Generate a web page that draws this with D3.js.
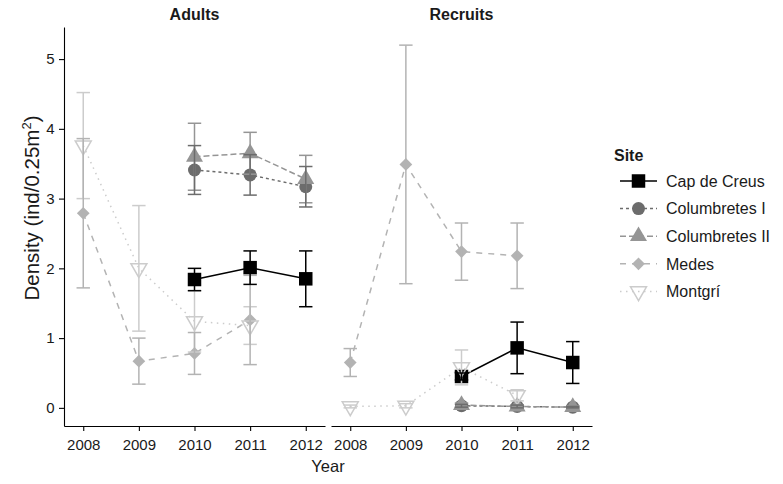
<!DOCTYPE html>
<html>
<head>
<meta charset="utf-8">
<script src="https://cdn.jsdelivr.net/npm/d3@7"></script>
<style>
  html, body { margin: 0; padding: 0; background: #fff; }
  svg { display: block; font-family: "Liberation Sans", Arial, sans-serif; }
</style>
</head>
<body>
<svg id="chart" width="783" height="484"></svg>
<script>
// Survey years, sites and life stages
const years = [2008, 2009, 2010, 2011, 2012];
const sites = ["Cap de Creus", "Columbretes I", "Columbretes II", "Medes", "Montgrí"];
const stages = ["Adults", "Recruits"];
const yTicks = [0, 1, 2, 3, 4, 5];

// Mean density per year (null = not sampled) and its error
const capCreusAdults      = [null, null, 1.84, 2.01, 1.85];
const capCreusAdultsErr   = [null, null, 0.16, 0.24, 0.40];
const colIAdults          = [null, null, 3.41, 3.34, 3.17];
const colIAdultsErr       = [null, null, 0.35, 0.29, 0.29];
const colIIAdults         = [null, null, 3.60, 3.65, 3.28];
const colIIAdultsErr      = [null, null, 0.48, 0.30, 0.34];
const medesAdults         = [2.79, 0.67, 0.78, 1.26, null];
const medesAdultsErr      = [1.07, 0.33, 0.30, 0.64, null];
const montgriAdults       = [3.76, 2.00, 1.24, 1.18, null];
const montgriAdultsErr    = [0.76, 0.90, 0.44, 0.27, null];

const capCreusRecruits    = [null, null, 0.45, 0.86, 0.65];
const capCreusRecruitsErr = [null, null, 0.05, 0.37, 0.30];
const colIRecruits        = [null, null, 0.03, 0.02, 0.01];
const colIRecruitsErr     = [null, null, 0.02, 0.02, 0.01];
const colIIRecruits       = [null, null, 0.04, 0.02, 0.01];
const colIIRecruitsErr    = [null, null, 0.03, 0.02, 0.02];
const medesRecruits       = [0.65, 3.49, 2.24, 2.18, null];
const medesRecruitsErr    = [0.20, 1.71, 0.41, 0.47, null];
const montgriRecruits     = [0.02, 0.03, 0.58, 0.18, null];
const montgriRecruitsErr  = [0.02, 0.03, 0.25, 0.08, null];

const seriesByStage = {
  "Adults": [
    [capCreusAdults, capCreusAdultsErr],
    [colIAdults, colIAdultsErr],
    [colIIAdults, colIIAdultsErr],
    [medesAdults, medesAdultsErr],
    [montgriAdults, montgriAdultsErr]
  ],
  "Recruits": [
    [capCreusRecruits, capCreusRecruitsErr],
    [colIRecruits, colIRecruitsErr],
    [colIIRecruits, colIIRecruitsErr],
    [medesRecruits, medesRecruitsErr],
    [montgriRecruits, montgriRecruitsErr]
  ]
};

// Grey ramp, line types and point shapes per site
const colors = ["#000000", "#6C6C6C", "#959595", "#B3B3B3", "#CCCCCC"];
const dashes = [null, "3,3", "6,3", "6,6", "1.5,4.5"];
const shapes = ["square", "circle", "triUp", "diamond", "triDown"];

const svg = d3.select("#chart");
const textColor = "#1a1a1a";

const panels = [
  { stage: "Adults",   x0: 64,  x1: 325 },
  { stage: "Recruits", x0: 331, x1: 592 }
];
const yTop = 27, yBottom = 426;

const y = d3.scaleLinear().domain([-0.26, 5.46]).range([yBottom, yTop]);

function symbolPath(shape) {
  switch (shape) {
    case "square":  return d3.symbol(d3.symbolSquare, 13.5 * 13.5)();
    case "circle":  return d3.symbol(d3.symbolCircle, Math.PI * 6.5 * 6.5)();
    case "triUp":   return d3.symbol(d3.symbolTriangle, Math.sqrt(3) / 4 * 17 * 17)();
    case "diamond": return d3.symbol(d3.symbolSquare, 9 * 9)();
    case "triDown": return d3.symbol(d3.symbolTriangle, Math.sqrt(3) / 4 * 16 * 16)();
  }
}
function symbolTransform(shape, cx, cy) {
  if (shape === "diamond") return `translate(${cx},${cy}) rotate(45)`;
  if (shape === "triDown") return `translate(${cx},${cy}) rotate(180)`;
  return `translate(${cx},${cy})`;
}
function drawPoint(g, i, cx, cy) {
  const open = shapes[i] === "triDown";
  g.append("path")
    .attr("d", symbolPath(shapes[i]))
    .attr("transform", symbolTransform(shapes[i], cx, cy))
    .attr("fill", open ? "none" : colors[i])
    .attr("stroke", open ? colors[i] : "none")
    .attr("stroke-width", open ? 1.5 : 0);
}

const capHalf = 6.7;

panels.forEach(p => {
  const x = d3.scaleLinear().domain([2007.654, 2012.346]).range([p.x0, p.x1]);
  const g = svg.append("g");
  const data = seriesByStage[p.stage];

  // connecting lines
  data.forEach(([vals], i) => {
    const pts = years.map((yr, k) => ({ yr, v: vals[k] })).filter(d => d.v !== null);
    const line = d3.line().x(d => x(d.yr)).y(d => y(d.v));
    g.append("path")
      .attr("d", line(pts))
      .attr("fill", "none")
      .attr("stroke", colors[i])
      .attr("stroke-width", 1.5)
      .attr("stroke-dasharray", dashes[i]);
  });

  // points
  data.forEach(([vals], i) => {
    years.forEach((yr, k) => {
      if (vals[k] === null) return;
      drawPoint(g, i, x(yr), y(vals[k]));
    });
  });

  // error bars, darkest site on top
  for (let i = data.length - 1; i >= 0; i--) {
    const [vals, errs] = data[i];
    years.forEach((yr, k) => {
      if (vals[k] === null) return;
      const cx = x(yr), lo = y(vals[k] - errs[k]), hi = y(vals[k] + errs[k]);
      const eb = g.append("g").attr("stroke", colors[i]).attr("stroke-width", 1.5);
      eb.append("line").attr("x1", cx).attr("x2", cx).attr("y1", lo).attr("y2", hi);
      eb.append("line").attr("x1", cx - capHalf).attr("x2", cx + capHalf).attr("y1", lo).attr("y2", lo);
      eb.append("line").attr("x1", cx - capHalf).attr("x2", cx + capHalf).attr("y1", hi).attr("y2", hi);
    });
  }

  // x axis
  const xAxis = d3.axisBottom(x).tickValues(years).tickFormat(d3.format("d")).tickSize(5).tickSizeOuter(0);
  const ax = svg.append("g").attr("transform", `translate(0,${yBottom})`).call(xAxis);
  ax.select(".domain").attr("stroke", "#000").attr("stroke-width", 1.1);
  ax.selectAll(".tick line").attr("stroke", "#000").attr("stroke-width", 1.1);
  ax.selectAll(".tick text").attr("fill", textColor).attr("font-size", 15).attr("dy", "1.05em")
    .attr("font-family", "Liberation Sans, Arial, sans-serif");

  // strip title
  svg.append("text")
    .attr("x", (p.x0 + p.x1) / 2).attr("y", 20)
    .attr("text-anchor", "middle")
    .attr("font-size", 16).attr("font-weight", "bold").attr("fill", textColor)
    .text(p.stage);
});

// y axis on the first panel
const yAxis = d3.axisLeft(y).tickValues(yTicks).tickFormat(d3.format("d")).tickSize(5).tickSizeOuter(0);
const ay = svg.append("g").attr("transform", `translate(${panels[0].x0},0)`).call(yAxis);
ay.select(".domain").attr("stroke", "#000").attr("stroke-width", 1.1);
ay.selectAll(".tick line").attr("stroke", "#000").attr("stroke-width", 1.1);
ay.selectAll(".tick text").attr("fill", textColor).attr("font-size", 15).attr("dx", "-0.1em")
  .attr("font-family", "Liberation Sans, Arial, sans-serif");

// axis titles
svg.append("text")
  .attr("x", (panels[0].x0 + panels[1].x1) / 2).attr("y", 472)
  .attr("text-anchor", "middle").attr("font-size", 16.5).attr("fill", textColor)
  .text("Year");

const yTitle = svg.append("text")
  .attr("transform", `translate(39,208) rotate(-90)`)
  .attr("text-anchor", "middle").attr("font-size", 20.5).attr("fill", textColor);
yTitle.append("tspan").text("Density (ind/0.25m");
yTitle.append("tspan").attr("font-size", 13).attr("dy", "-0.65em").text("2");
yTitle.append("tspan").attr("dy", "0.42em").text(")");

// legend
const legend = svg.append("g").attr("transform", "translate(614,0)");
legend.append("text").attr("x", 0).attr("y", 161)
  .attr("font-size", 16).attr("font-weight", "bold").attr("fill", textColor).text("Site");
sites.forEach((s, i) => {
  const cy = 181 + i * 27.6;
  legend.append("line")
    .attr("x1", 6).attr("x2", 43).attr("y1", cy).attr("y2", cy)
    .attr("stroke", colors[i]).attr("stroke-width", 1.5)
    .attr("stroke-dasharray", dashes[i]);
  drawPoint(legend, i, 24.5, cy);
  legend.append("text").attr("x", 52).attr("y", cy).attr("dy", "0.36em")
    .attr("font-size", 16).attr("fill", textColor).text(s);
});
</script>
</body>
</html>
